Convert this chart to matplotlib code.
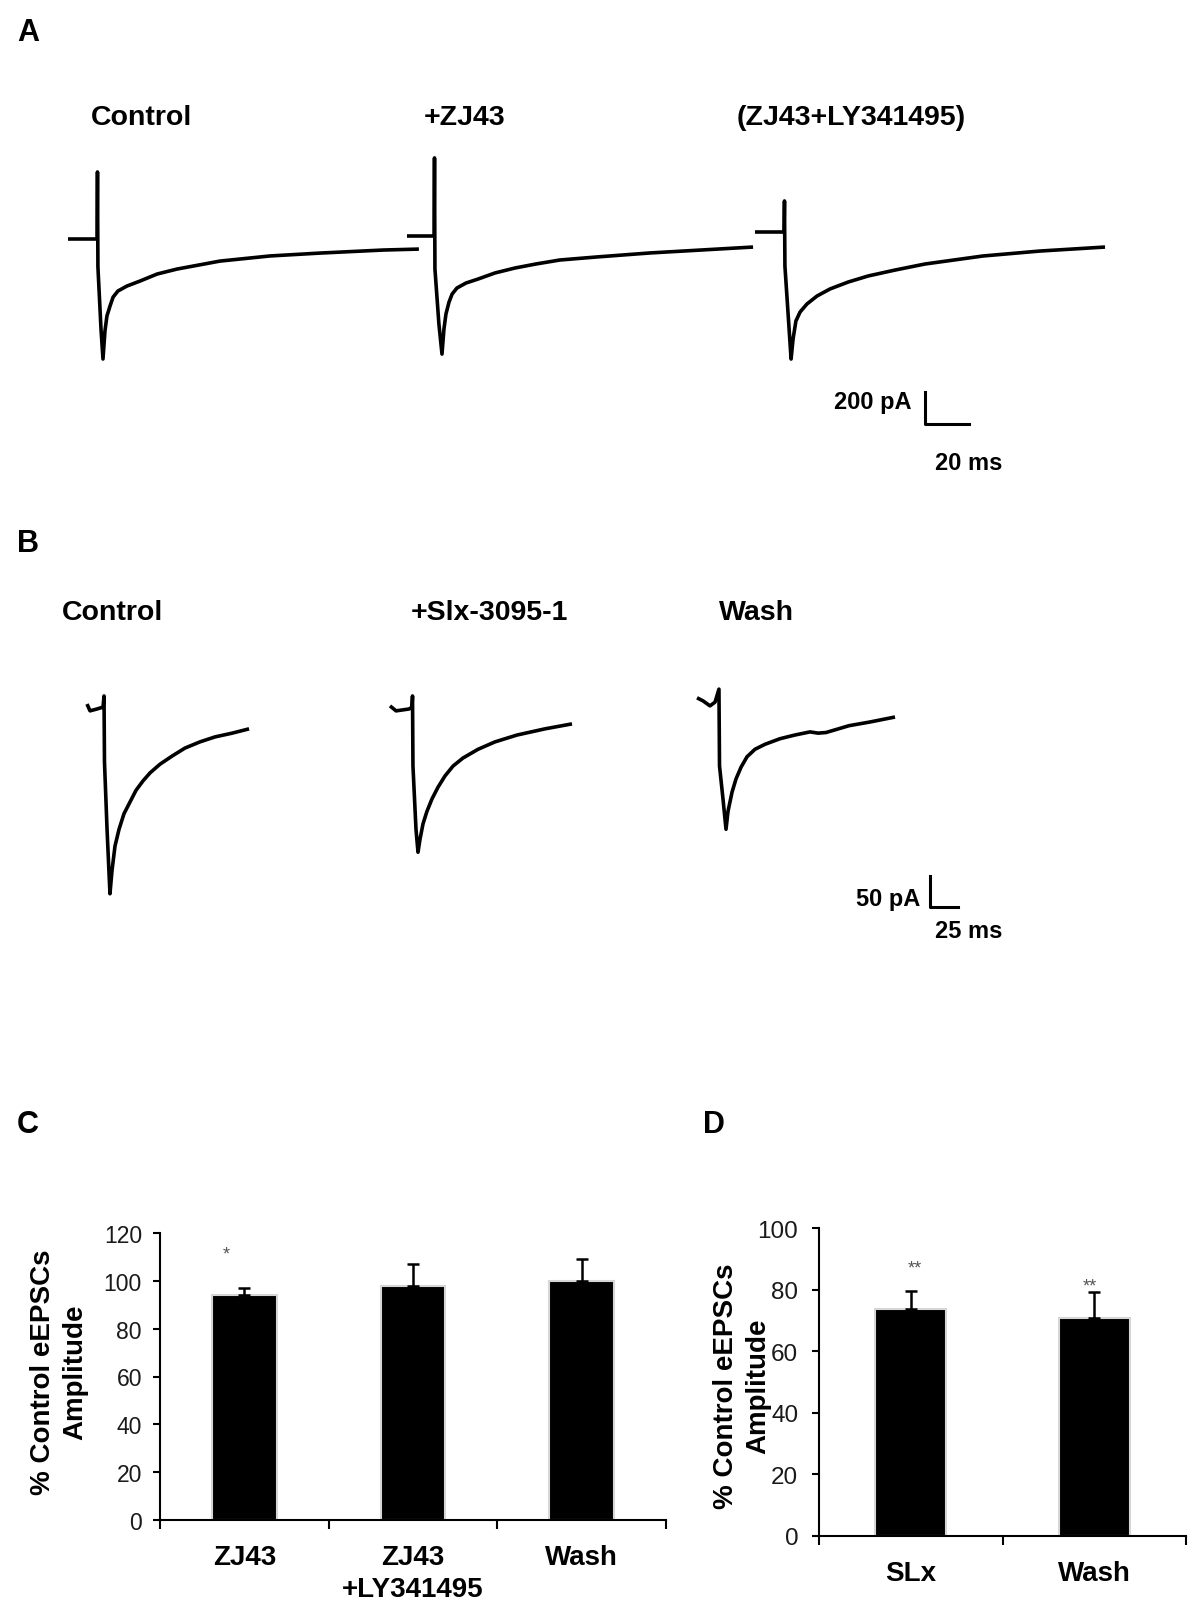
import matplotlib.pyplot as plt
from matplotlib import font_manager

plt.rcParams['font.family'] = ['Liberation Sans', 'DejaVu Sans']

installed = {f.name for f in font_manager.fontManager.ttflist}
narrow = 'Liberation Sans Narrow' if 'Liberation Sans Narrow' in installed else 'Liberation Sans'

# Panel A traces (time in ms from trace start, current in pA from baseline)
a_titles = ["Control", "+ZJ43", "(ZJ43+LY341495)"]
a_t = [
    [0, 13.2, 13.4, 13.6, 15.0, 15.9, 16.8, 17.7, 19.1, 20.5, 22.7, 26.8, 32.7, 40.5, 49.5,
     69.1, 91.8, 114.5, 143.2, 159.5],
    [0, 12.3, 12.5, 12.7, 14.5, 15.9, 16.8, 17.7, 19.1, 20.5, 22.7, 26.8, 32.3, 40.0, 49.1,
     58.6, 69.5, 86.3, 110.4, 133.2, 157.3],
    [0, 13.2, 13.4, 13.6, 15.5, 16.4, 17.3, 18.6, 20.5, 23.6, 28.2, 34.1, 42.3, 51.4, 63.6,
     77.3, 103.6, 129.5, 159.1],
]
a_i = [
    [0, 0, 419, -175, -563, -750, -575, -481, -419, -363, -325, -294, -263, -219, -188,
     -138, -106, -88, -69, -63],
    [0, 0, 488, -206, -550, -738, -581, -488, -413, -363, -325, -294, -269, -231, -200,
     -175, -150, -131, -106, -88, -69],
    [0, 0, 194, -213, -606, -794, -669, -556, -500, -450, -400, -356, -313, -275, -238,
     -200, -150, -119, -94],
]

# Panel B traces
b_titles = ["Control", "+Slx-3095-1", "Wash"]
b_t = [
    [0, 2.7, 8.9, 14.3, 15.2, 15.6, 17.9, 20.5, 22.3, 25.0, 28.6, 33.0, 38.4, 43.8, 50.0,
     56.3, 65.2, 75.9, 87.5, 100.9, 114.3, 129.5, 144.7],
    [0, 5.4, 17.0, 19.6, 20.1, 20.5, 23.2, 25.0, 26.8, 29.5, 33.0, 37.5, 42.9, 49.1, 56.3,
     65.2, 78.6, 93.8, 113.4, 138.4, 162.5],
    [0, 5.4, 11.6, 16.1, 19.6, 20.1, 23.2, 25.9, 27.7, 31.3, 34.8, 39.3, 44.7, 51.8, 60.7,
     74.1, 87.5, 100.9, 108.1, 115.2, 135.7, 154.5, 176.8],
]
b_i = [
    [8, -3, 0, 3, 21, -85, -194, -298, -261, -221, -194, -169, -150, -131, -116,
     -103, -89, -76, -63, -53, -45, -39, -32],
    [5, -3, 0, 3, 21, -92, -194, -231, -210, -185, -165, -145, -126, -108, -92,
     -79, -65, -53, -42, -32, -24],
    [10, 5, -3, 3, 24, -100, -153, -202, -173, -142, -121, -102, -85, -73, -65,
     -56, -50, -45, -47, -46, -35, -29, -21],
]

# Panel C / D bar data (% of control amplitude)
c_labels = ["ZJ43", "ZJ43\n+LY341495", "Wash"]
c_mean = [94.2, 97.7, 99.8]
c_sem = [2.8, 9.5, 9.5]
c_stars = ["*", "", ""]

d_labels = ["SLx", "Wash"]
d_mean = [73.6, 70.7]
d_sem = [6.0, 8.6]
d_stars = ["**", "**"]

W, H = 1200, 1615


def fx(x):
    return x / W


def fy(y):
    return 1 - y / H


fig = plt.figure(figsize=(12, 16.15), dpi=100)

# ---- panel A traces ----
ms_a = 20 / 44      # ms per pixel
pa_a = 200 / 32     # pA per pixel
ax_a = fig.add_axes([0, 0, 1, 1])
ax_a.set_xlim(-68 * ms_a, (W - 68) * ms_a)
ax_a.set_ylim((240 - H) * pa_a, 240 * pa_a)
ax_a.axis('off')
a_t0 = [0, 339 * ms_a, 687 * ms_a]
a_i0 = [0, 3 * pa_a, 7 * pa_a]
for t, i, t0, i0 in zip(a_t, a_i, a_t0, a_i0):
    ax_a.plot([v + t0 for v in t], [v + i0 for v in i], color='black', lw=2.6,
              solid_joinstyle='round', solid_capstyle='butt')
sb_t, sb_i = 857 * ms_a, -185 * pa_a
ax_a.plot([sb_t, sb_t, sb_t + 20], [sb_i + 200, sb_i, sb_i], color='black', lw=2.2)

# ---- panel B traces ----
ms_b = 25 / 28
pa_b = 50 / 31
ax_b = fig.add_axes([0, 0, 1, 1])
ax_b.set_xlim(-87 * ms_b, (W - 87) * ms_b)
ax_b.set_ylim((710 - H) * pa_b, 710 * pa_b)
ax_b.axis('off')
b_t0 = [0, 303 * ms_b, 610 * ms_b]
b_i0 = [0, 0, 5 * pa_b]
for t, i, t0, i0 in zip(b_t, b_i, b_t0, b_i0):
    ax_b.plot([v + t0 for v in t], [v + i0 for v in i], color='black', lw=2.6,
              solid_joinstyle='round', solid_capstyle='butt')
sb_t, sb_i = 843 * ms_b, -198 * pa_b
ax_b.plot([sb_t, sb_t, sb_t + 25], [sb_i + 50, sb_i, sb_i], color='black', lw=2.2)

# ---- texts for traces ----
bold = dict(fontweight='bold', color='black')
for txt, x in zip(a_titles, [91, 424, 737]):
    fig.text(fx(x), fy(125), txt, fontsize=20.5, va='baseline', **bold)
for txt, x in zip(b_titles, [62, 411, 719]):
    fig.text(fx(x), fy(620), txt, fontsize=20.5, va='baseline', **bold)

fig.text(fx(912), fy(409), "200 pA", fontsize=17, ha='right', va='baseline', **bold)
fig.text(fx(935), fy(470), "20 ms", fontsize=17, ha='left', va='baseline', **bold)
fig.text(fx(920), fy(906), "50 pA", fontsize=17, ha='right', va='baseline', **bold)
fig.text(fx(935), fy(938), "25 ms", fontsize=17, ha='left', va='baseline', **bold)

for letter, x, y in [("A", 17, 41), ("B", 17, 552), ("C", 17, 1133), ("D", 703, 1133)]:
    fig.text(fx(x), fy(y), letter, fontsize=22, va='baseline', **bold)


# ---- bar charts ----
def bar_panel(rect, labels, mean, sem, stars, star_dx, star_y, ymax, tick_fs, tick_pad):
    ax = fig.add_axes(rect)
    n = len(mean)
    x = [k + 0.5 for k in range(n)]
    ax.bar(x, mean, width=0.385, color='black', edgecolor='#d6d6d6', linewidth=1.5, zorder=2)
    ax.errorbar(x, mean, yerr=[[0] * n, sem], fmt='none', ecolor='black',
                elinewidth=1.8, capsize=4, capthick=1.8, zorder=3)
    for k in range(n):
        if stars[k]:
            ax.text(x[k] + star_dx[k], star_y[k], stars[k], ha='center', va='center',
                    fontsize=13, color='#555555')
    ax.set_xlim(0, n)
    ax.set_ylim(0, ymax)
    ax.set_yticks(range(0, ymax + 1, 20))
    for lab in ax.get_yticklabels():
        lab.set_family([narrow, 'DejaVu Sans'])
    ax.set_xticks(range(n + 1))
    ax.set_xticklabels([])
    ax.set_xticks(x, minor=True)
    ax.set_xticklabels(labels, minor=True, fontsize=20, fontweight='bold', linespacing=1.3)
    ax.tick_params(axis='x', which='major', direction='out', length=6.5, width=1.5)
    ax.tick_params(axis='x', which='minor', length=0, pad=17)
    ax.tick_params(axis='y', direction='out', length=5, width=1.5,
                   labelsize=tick_fs, pad=tick_pad, labelcolor='#1a1a1a')
    for s in ['top', 'right']:
        ax.spines[s].set_visible(False)
    for s in ['left', 'bottom']:
        ax.spines[s].set_linewidth(1.5)
    return ax


bar_panel([fx(160), fy(1521), (666 - 160) / W, (1521 - 1234) / H],
          c_labels, c_mean, c_sem, c_stars, [-0.107, 0, 0], [111.3, 0, 0], 120, 16.5, 8)
bar_panel([fx(819), fy(1537), (1186 - 819) / W, (1537 - 1229) / H],
          d_labels, d_mean, d_sem, d_stars, [0.02, -0.025], [87.0, 81.3], 100, 17.5, 10)

ylab = "% Control eEPSCs\nAmplitude"
fig.text(fx(59), fy(1372), ylab, rotation=90, ha='center', va='center',
         multialignment='center', fontsize=20, linespacing=1.3, **bold)
fig.text(fx(742), fy(1386), ylab, rotation=90, ha='center', va='center',
         multialignment='center', fontsize=20, linespacing=1.3, **bold)

fig.savefig("out.png", dpi=100)
